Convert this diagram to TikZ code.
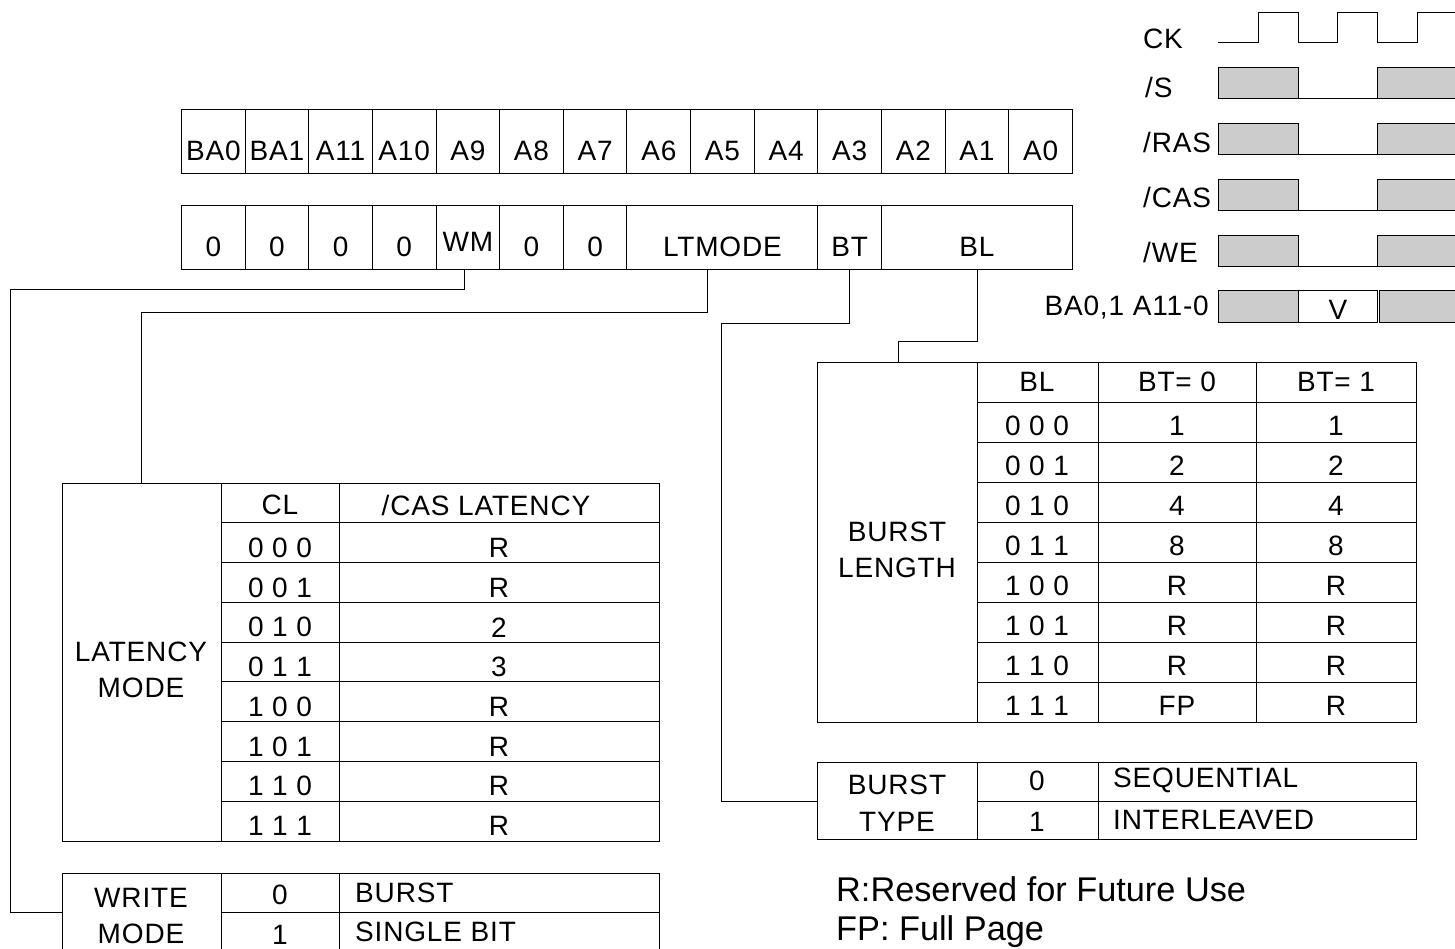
\documentclass[tikz,border=0pt]{standalone}
\usepackage{fontspec}
\setmainfont[LetterSpace=3]{Liberation Sans}
\newfontfamily\notefont{Liberation Sans}
\usetikzlibrary{positioning,calc}
\definecolor{sdgray}{RGB}{204,204,204}

\begin{document}
\begin{tikzpicture}[x=1pt, y=-1pt,
    every node/.style={font=\fontsize{28}{36}\selectfont, inner sep=0pt},
    cell/.style={draw, line width=1pt, anchor=north west, minimum height=64pt,
                 text height=38pt, text depth=0pt},
    tbl/.style={draw, line width=1pt, anchor=north west},
    grid/.style={line width=1pt},
    wire/.style={line width=1pt},
    wave/.style={line width=1pt},
    hi/.style={draw, line width=1pt, fill=sdgray},
    sig/.style={anchor=west},
    ttl/.style={align=center},
    note/.style={anchor=west, font=\notefont\fontsize{34.3}{42}\selectfont}]

  \useasboundingbox (0,0) rectangle (1455,949);

  % address bits
  \foreach \lbl [count=\i from 0] in {BA0,BA1,A11,A10,A9,A8,A7,A6,A5,A4,A3,A2,A1,A0}
    \node[cell, minimum width=63.64pt] (a\i) at ({181+63.64*\i},109) {\lbl};

  % mode register fields
  \foreach \lbl/\s/\w/\nm in {0/0/1/b0, 0/1/1/b1, 0/2/1/b2, 0/3/1/b3, 0/5/1/b5, 0/6/1/b6,
                              LTMODE/7/3/ltm, BT/10/1/bt, BL/11/3/bl}
    \node[cell, minimum width=\w*63.64pt] (\nm) at ({181+63.64*\s},205) {\lbl};
  \node[cell, minimum width=63.64pt, text height=29pt] (wm) at ({181+63.64*4},205) {WM};

  % tables
  \node[tbl, minimum width=597pt, minimum height=358pt] (latbox) at (62,483) {};
  \node[tbl, minimum width=599pt, minimum height=360pt] (blbox) at (817,362) {};
  \node[tbl, minimum width=599pt, minimum height=77pt] (btbox) at (817,762) {};
  \node[tbl, minimum width=597pt, minimum height=78pt] (wrbox) at (62,873) {};

  % connectors
  \coordinate (wmlane) at (10,290);
  \coordinate (ltlane) at (141,313);
  \coordinate (btlane) at (721,323);
  \coordinate (bllane) at (898,341);
  \draw[wire] ([xshift=-3pt]wm.south) |- (wmlane) |- (wrbox.west);
  \draw[wire] ([xshift=-15pt]ltm.south) |- (ltlane) -- (ltlane |- latbox.north);
  \draw[wire] (bt.south) |- (btlane) |- (btbox.west);
  \draw[wire] (bl.south) |- (bllane) -- (bllane |- blbox.north);

  % latency mode
  \draw[grid] (221,483) -- (221,841) (339,483) -- (339,841);
  \foreach \k in {1,...,8}
    \draw[grid] (221,{483+39.78*\k}) -- (659,{483+39.78*\k});
  \node (clh) at (280,505) {CL};
  \node (cash) at (486,505) {/CAS LATENCY};
  \foreach \cl/\val [count=\k] in {0 0 0/R, 0 0 1/R, 0 1 0/2, 0 1 1/3,
                                   1 0 0/R, 1 0 1/R, 1 1 0/R, 1 1 1/R}{
    \node (lc\k) at (280,{483+39.78*(\k+0.5)+5}) {\cl};
    \node (lv\k) at (499,{483+39.78*(\k+0.5)+5}) {\val};
  }
  \node[ttl] (latlbl) at (141,670) {LATENCY\\MODE};

  % burst length
  \draw[grid] (977,362) -- (977,722) (1098,362) -- (1098,722) (1256,362) -- (1256,722);
  \foreach \k in {1,...,8}
    \draw[grid] (977,{362+40*\k}) -- (1416,{362+40*\k});
  \node (blh) at (1037,382) {BL};
  \node (bt0h) at (1177,382) {BT= 0};
  \node (bt1h) at (1336,382) {BT= 1};
  \foreach \code/\va/\vb [count=\k] in {0 0 0/1/1, 0 0 1/2/2, 0 1 0/4/4, 0 1 1/8/8,
                                        1 0 0/R/R, 1 0 1/R/R, 1 1 0/R/R, 1 1 1/FP/R}{
    \node (bc\k) at (1037,{362+40*(\k+0.5)+4}) {\code};
    \node (bs\k) at (1177,{362+40*(\k+0.5)+4}) {\va};
    \node (bi\k) at (1336,{362+40*(\k+0.5)+4}) {\vb};
  }
  \node[ttl] (bllbl) at (897,550) {BURST\\LENGTH};

  % burst type
  \draw[grid] (977,762) -- (977,839) (1098,762) -- (1098,839) (977,801) -- (1416,801);
  \node (bty0) at (1037,781) {0};
  \node (bty1) at (1037,822) {1};
  \node[anchor=west] (seq) at (1113,780) {SEQUENTIAL};
  \node[anchor=west] (intl) at (1113,820) {INTERLEAVED};
  \node[ttl, font=\fontsize{28}{37}\selectfont] (btlbl) at (897,803) {BURST\\TYPE};

  % write mode
  \draw[grid] (221,873) -- (221,951) (339,873) -- (339,951) (221,912) -- (659,912);
  \node (wr0) at (280,895) {0};
  \node (wr1) at (280,935) {1};
  \node[anchor=west] (wrb) at (355,893) {BURST};
  \node[anchor=west] (wrs) at (355,932) {SINGLE BIT};
  \node[ttl, font=\fontsize{28}{36}\selectfont] (wrlbl) at (141,916) {WRITE\\MODE};

  % notes
  \node[note] (note1) at (836,889) {R:Reserved for Future Use};
  \node[note] (note2) at (836,932) {FP: Full Page};

  % command timing
  \draw[wave] (1218,43) -- (1258,43) -- (1258,13) -- (1298,13) -- (1298,43) -- (1337,43)
    -- (1337,13) -- (1377,13) -- (1377,43) -- (1417,43) -- (1417,13) -- (1462,13);
  \foreach \t in {68,124,180,236}{
    \draw[hi] (1218,\t) rectangle (1298,{\t+31});
    \draw[wave] (1298,{\t+31}) -- (1377,{\t+31});
    \draw[hi] (1377,\t) rectangle (1462,{\t+31});
  }
  \draw[hi] (1218,291) rectangle (1298,322);
  \draw[wave] (1298,291) rectangle (1377,322);
  \draw[hi] (1379,291) rectangle (1462,322);
  \node (v) at (1338,310) {V};

  \node[sig] (ck) at (1143,39) {CK};
  \node[sig] (s) at (1145,87) {/S};
  \node[sig] (ras) at (1143,142) {/RAS};
  \node[sig] (cas) at (1143,197) {/CAS};
  \node[sig] (we) at (1143,252) {/WE};
  \node[anchor=east] (addr) at (1209,308) {BA0,1 A11-0};
\end{tikzpicture}
\end{document}
